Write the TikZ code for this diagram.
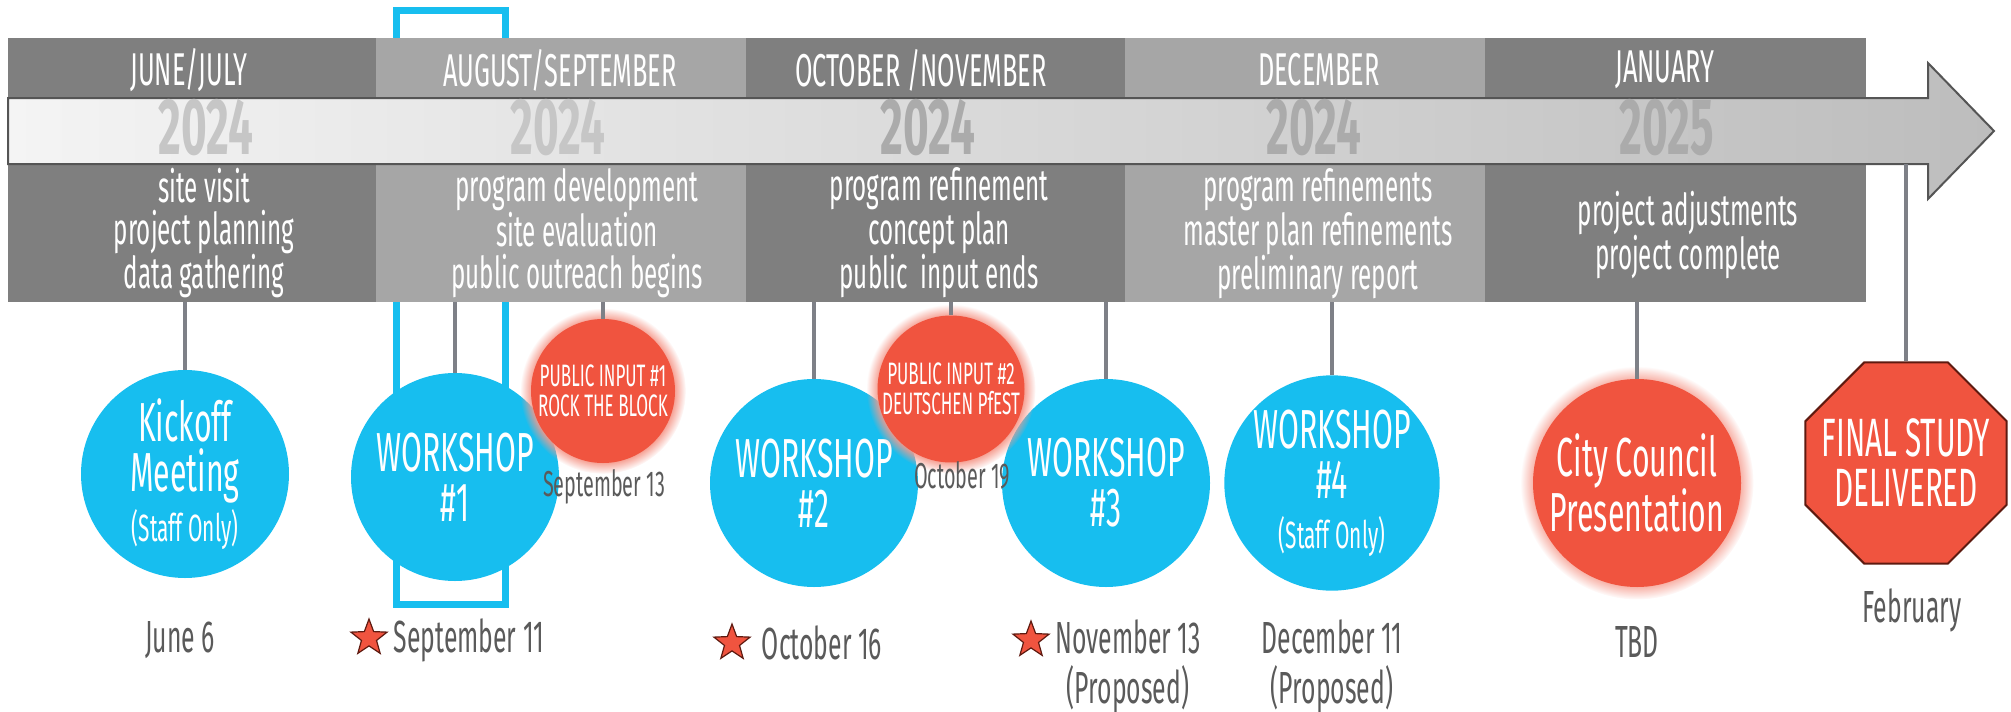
\documentclass[tikz,border=0pt]{standalone}
\usepackage{fontspec}
\setmainfont{Fira Sans}[FakeStretch=0.55]
\usetikzlibrary{shapes.geometric,shadows}

\definecolor{dkcol}{HTML}{7F7F7F}
\definecolor{ltcol}{HTML}{A6A6A6}
\definecolor{skyblue}{HTML}{17BEEF}
\definecolor{tomato}{HTML}{F0543F}
\definecolor{glowred}{HTML}{F59A8C}
\definecolor{linegray}{HTML}{7E8087}
\definecolor{datecol}{HTML}{5A5A5A}
\definecolor{yearcol}{HTML}{ABABAB}
\definecolor{yearlt}{HTML}{C6C6C6}
\definecolor{starline}{HTML}{5E1A10}
\definecolor{arrowline}{HTML}{555555}
\definecolor{barleft}{HTML}{F4F4F4}
\definecolor{barright}{HTML}{BDBDBD}

\tikzset{
  month/.style={text=white,font=\fontsize{46}{46}\selectfont},
  year/.style={text=yearcol,inner sep=0pt,text depth=0pt,font=\bfseries\fontsize{80}{80}\selectfont},
  tasks/.style={text=white,align=center,inner sep=0pt,font=\fontsize{44}{42}\selectfont},
  conn/.style={draw=linegray,line width=4pt},
  meet/.style={circle,fill=skyblue,minimum size=208pt,inner sep=0pt,text=white,align=center,font=\fontsize{55}{50}\selectfont},
  council/.style={circle,fill=tomato,minimum size=208pt,inner sep=0pt,text=white,align=center,
    font=\fontsize{55}{48}\selectfont,circular glow={fill=glowred,shadow scale=1.12}},
  inputdot/.style={circle,fill=tomato,minimum size=144pt,inner sep=0pt,text=white,align=center,
    font=\fontsize{31}{30}\selectfont,circular glow={fill=glowred,shadow scale=1.15}},
  datelbl/.style={text=datecol,align=center,font=\fontsize{45}{50}\selectfont},
  smalldate/.style={text=datecol,font=\fontsize{36}{36}\selectfont},
  redstar/.style={star,star points=5,star point ratio=2.4,fill=tomato,draw=starline,line width=1.2pt,
    minimum size=38pt,inner sep=0pt}
}

\begin{document}
\begin{tikzpicture}[x=1pt,y=-1pt]
\useasboundingbox (0,0) rectangle (2011,712);

% highlight frame behind workshop 1
\draw[skyblue,line width=7pt] (396.5,10.5) rectangle (505.5,604.5);

% month columns
\fill[dkcol] (8,38) rectangle (376,302);
\fill[ltcol] (376,38) rectangle (746,302);
\fill[dkcol] (746,38) rectangle (1125,302);
\fill[ltcol] (1125,38) rectangle (1485,302);
\fill[dkcol] (1485,38) rectangle (1866,302);
\coordinate (boxbase) at (0,302);
\coordinate (shaft) at (0,164);

% time arrow
\draw[arrowline,line width=2pt,left color=barleft,right color=barright]
  (8,98) -- (1928,98) -- (1928,63) -- (1994,131) -- (1928,199) -- (1928,164) -- (8,164) -- cycle;

\node[month] (m1) at (189,70) {JUNE/JULY};
\node[month] (m2) at (560,70) {AUGUST/SEPTEMBER};
\node[month] (m3) at (921,70) {OCTOBER /NOVEMBER};
\node[month] (m4) at (1319,70) {DECEMBER};
\node[month] (m5) at (1665,70) {JANUARY};

\node[year,text=yearlt] (y1) at (206,127) {2024};
\node[year,text=yearlt] (y2) at (558,127) {2024};
\node[year] (y3) at (928,127) {2024};
\node[year] (y4) at (1314,127) {2024};
\node[year] (y5) at (1667,127) {2025};

\node[tasks] (t1) at (204,233) {site visit\\project planning\\data gathering};
\node[tasks] (t2) at (577,233) {program development\\site evaluation\\public outreach begins};
\node[tasks] (t3) at (939,233) {program refinement\\concept plan\\public~ input ends};
\node[tasks] (t4) at (1318,234) {program refinements\\master plan refinements\\preliminary report};
\node[tasks] (t5) at (1688,235) {project adjustments\\project complete};

% meetings
\node[meet] (kick) at (185,474) {Kickoff\\Meeting\\{\fontsize{38}{40}\selectfont(Staff Only)}};
\node[meet] (ws1) at (455,477) {WORKSHOP\\\#1};
\node[meet] (ws2) at (814,483) {WORKSHOP\\\#2};
\node[meet] (ws3) at (1106,483) {WORKSHOP\\\#3};
\node[meet] (ws4) at (1332,483) {WORKSHOP\\\#4\\{\fontsize{38}{40}\selectfont(Staff Only)}};
\node[inputdot] (pi1) at (603,391) {PUBLIC INPUT \#1\\ROCK THE BLOCK};
\node[inputdot] (pi2) at (951,389) {PUBLIC INPUT \#2\\DEUTSCHEN PfEST};
\node[council] (city) at (1637,483) {City Council\\Presentation};
\node[regular polygon,regular polygon sides=8,minimum size=218pt,inner sep=0pt,fill=tomato,draw=starline,
  line width=2pt] (final) at (1906,463) {};
\node[text=white,align=center,font=\fontsize{54}{50}\selectfont] (finaltxt) at (final) {FINAL STUDY\\DELIVERED};

% connectors
\draw[conn] (kick.north) -- (kick.north |- boxbase);
\draw[conn] (ws1.north) -- (ws1.north |- boxbase);
\draw[conn] (pi1.north) -- (pi1.north |- boxbase);
\draw[conn] (ws2.north) -- (ws2.north |- boxbase);
\draw[conn] (pi2.north) -- (pi2.north |- boxbase);
\draw[conn] (ws3.north) -- (ws3.north |- boxbase);
\draw[conn] (ws4.north) -- (ws4.north |- boxbase);
\draw[conn] (city.north) -- (city.north |- boxbase);
\draw[conn] (final.north) -- (final.north |- shaft);

% dates
\node[smalldate] (d1b) at (604,487) {September 13};
\node[smalldate] (d2b) at (962,475) {October 19};
\node[datelbl] (d0) at (180,640) {June 6};
\node[datelbl] (d1) at (469,640) {September 11};
\node[datelbl] (d2) at (822,643) {October 16};
\node[datelbl,anchor=north] (d3) at (1128,616) {November 13\\(Proposed)};
\node[datelbl,anchor=north] (d4) at (1332,616) {December 11\\(Proposed)};
\node[datelbl] (d5) at (1637,642) {TBD};
\node[datelbl] (d6) at (1912,610) {February};
\node[redstar] (s1) at (369,638) {};
\node[redstar] (s2) at (732,643) {};
\node[redstar] (s3) at (1031,640) {};
\end{tikzpicture}
\end{document}
